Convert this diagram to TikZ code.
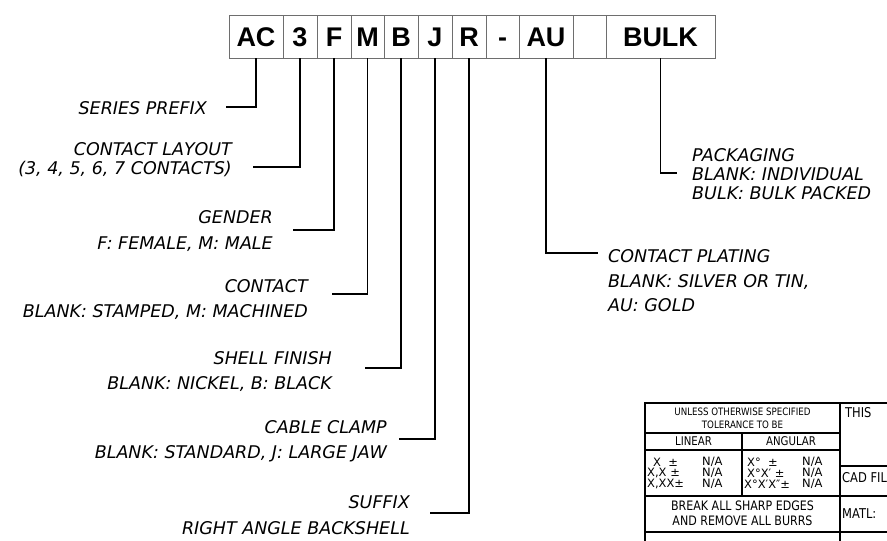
\documentclass[tikz,border=0pt]{standalone}
\usepackage{fontspec}
\usepackage{xcolor}
\usepackage{tikz}
\usetikzlibrary{positioning}
\newfontfamily\cadfont{DejaVu Sans}
\newfontfamily\tbfont[FakeStretch=0.85]{DejaVu Sans}
\newfontfamily\boxfont{Liberation Sans}
\definecolor{cadgray}{HTML}{6E6E6E}

\begin{document}
\begin{tikzpicture}[
  x=1pt, y=-1pt,
  field/.style={draw=cadgray, line width=0.9pt, inner sep=0pt, outer sep=0pt, minimum height=43pt, text height=19.5pt, text depth=0pt, font=\boxfont\bfseries\fontsize{27}{27}\selectfont},
  lead/.style={draw=black, line width=1.3pt},
  lbl/.style={inner sep=0pt, anchor=north east, align=right, font=\cadfont\itshape\fontsize{17.5}{25}\selectfont},
  rlbl/.style={lbl, anchor=north west, align=left},
  tb/.style={draw=black, line width=1.1pt},
  tbtext/.style={inner sep=0pt, font=\tbfont\fontsize{13}{15}\selectfont},
  tbrow/.style={inner sep=0pt, anchor=west, font=\cadfont\fontsize{11.5}{13}\selectfont}
]
\useasboundingbox (0,0) rectangle (887,541);
\clip (0,0) rectangle (887,541);
\node[field, minimum width=54pt, anchor=north west] (ac) at (229,15) {AC};
\node[field, minimum width=34pt, right=0pt of ac] (lay) {3};
\node[field, minimum width=34pt, right=0pt of lay] (gen) {F};
\node[field, minimum width=33pt, right=0pt of gen] (cnt) {M};
\node[field, minimum width=34pt, right=0pt of cnt] (fin) {B};
\node[field, minimum width=34pt, right=0pt of fin] (clp) {J};
\node[field, minimum width=34pt, right=0pt of clp] (suf) {R};
\node[field, minimum width=33pt, right=0pt of suf] (hyph) {-};
\node[field, minimum width=54pt, right=0pt of hyph] (plat) {AU};
\node[field, minimum width=33pt, right=0pt of plat] (gap) {};
\node[field, minimum width=109pt, right=0pt of gap] (bulk) {BULK};

\node[lbl] (prefix) at (207,101.6) {SERIES PREFIX};
\node[lbl, font=\cadfont\itshape\fontsize{17.5}{19}\selectfont] (layout) at (232,142.6) {CONTACT LAYOUT\\(3, 4, 5, 6, 7 CONTACTS)};
\node[lbl, font=\cadfont\itshape\fontsize{17.5}{26}\selectfont] (gender) at (273,210.6) {GENDER\\F: FEMALE, M: MALE};
\node[lbl] (contact) at (308,279.6) {CONTACT\\BLANK: STAMPED, M: MACHINED};
\node[lbl] (shell) at (332,351.6) {SHELL FINISH\\BLANK: NICKEL, B: BLACK};
\node[lbl] (clamp) at (387,420.6) {CABLE CLAMP\\BLANK: STANDARD, J: LARGE JAW};
\node[lbl, font=\cadfont\itshape\fontsize{17.5}{26}\selectfont] (suffix) at (410,495.6) {SUFFIX\\RIGHT ANGLE BACKSHELL};
\node[rlbl, font=\cadfont\itshape\fontsize{17.5}{24.5}\selectfont] (plating) at (608,249.6) {CONTACT PLATING\\BLANK: SILVER OR TIN,\\AU: GOLD};
\node[rlbl, font=\cadfont\itshape\fontsize{17.5}{19}\selectfont] (packaging) at (692,148.6) {PACKAGING\\BLANK: INDIVIDUAL\\BULK: BULK PACKED};

\coordinate (prefixend) at (226,107);
\coordinate (layoutend) at (253,167);
\coordinate (genderend) at (293,230);
\coordinate (contactend) at (332,294);
\coordinate (shellend) at (365,368);
\coordinate (clampend) at (399,439);
\coordinate (suffixend) at (430,513);
\coordinate (platingend) at (598,253);
\coordinate (packend) at (677,173);
\draw[lead] (ac.south) |- (prefixend);
\draw[lead] (lay.south) |- (layoutend);
\draw[lead] (gen.south) |- (genderend);
\draw[lead] (cnt.south) |- (contactend);
\draw[lead] (fin.south) |- (shellend);
\draw[lead] (clp.south) |- (clampend);
\draw[lead] (suf.south) |- (suffixend);
\draw[lead] (plat.south) |- (platingend);
\draw[lead] (bulk.south) |- (packend);

\draw[tb] (645,548) |- (895,403);
\draw[tb] (645,433) -- (840,433);
\draw[tb] (645,450) -- (840,450);
\draw[tb] (742,433) -- (742,496);
\draw[tb] (645,496) -- (895,496);
\draw[tb] (645,532) -- (895,532);
\draw[tb] (840,403) -- (840,548);
\draw[tb] (840,466) -- (895,466);

\node[tbtext, font=\tbfont\fontsize{10.2}{12}\selectfont] (unless) at (742.5,412) {UNLESS OTHERWISE SPECIFIED};
\node[tbtext, font=\tbfont\fontsize{10.2}{12}\selectfont] (tolerance) at (742.5,425) {TOLERANCE TO BE};
\node[tbtext, font=\tbfont\fontsize{12}{14}\selectfont] (linear) at (693.5,441.5) {LINEAR};
\node[tbtext, font=\tbfont\fontsize{12}{14}\selectfont] (angular) at (791,441.5) {ANGULAR};
\node[tbrow] (lxa) at (653,462) {X\ \ ±};
\node[tbrow] (lxb) at (647,473) {X,X ±};
\node[tbrow] (lxc) at (647,484) {X,XX±};
\node[tbrow] (lna) at (702,462) {N/A};
\node[tbrow] (lnb) at (702,473) {N/A};
\node[tbrow] (lnc) at (702,484) {N/A};
\node[tbrow] (axa) at (747,462) {X°\ \ ±};
\node[tbrow] (axb) at (747,473) {X°X′ ±};
\node[tbrow] (axc) at (744,484) {X°X′X″±};
\node[tbrow] (ana) at (802,462) {N/A};
\node[tbrow] (anb) at (802,473) {N/A};
\node[tbrow] (anc) at (802,484) {N/A};
\node[tbtext] (break) at (742.5,506) {BREAK ALL SHARP EDGES};
\node[tbtext] (burrs) at (742.5,521) {AND REMOVE ALL BURRS};
\node[tbtext, anchor=west, font=\tbfont\fontsize{13.5}{15}\selectfont] (this) at (845,413) {THIS};
\node[tbtext, anchor=west, font=\tbfont\fontsize{13.5}{15}\selectfont] (cadfile) at (842,478) {CAD FIL};
\node[tbtext, anchor=west, font=\tbfont\fontsize{13.5}{15}\selectfont] (matl) at (842,514) {MATL:};
\end{tikzpicture}
\end{document}
